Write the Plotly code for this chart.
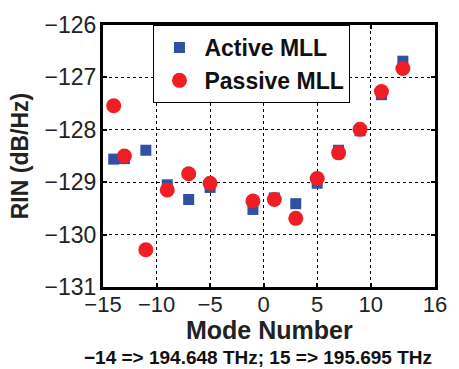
import plotly.graph_objects as go

# Relative intensity noise per longitudinal mode
active_modes = [-14, -13, -11, -9, -7, -5, -1, 1, 3, 5, 7, 9, 11, 13]
active_rin = [-128.56, -128.55, -128.39, -129.05, -129.33, -129.10, -129.52,
              -129.30, -129.41, -129.02, -128.39, -128.02, -127.33, -126.69]

passive_modes = [-14, -13, -11, -9, -7, -5, -1, 1, 3, 5, 7, 9, 11, 13]
passive_rin = [-127.54, -128.50, -130.29, -129.15, -128.84, -129.02, -129.36,
               -129.33, -129.69, -128.93, -128.44, -127.99, -127.27, -126.83]

x_ticks = [-15, -10, -5, 0, 5, 10, 16]
y_ticks = [-126, -127, -128, -129, -130, -131]

FONT = "Liberation Sans, Arial, sans-serif"

fig = go.Figure()
fig.add_trace(go.Scatter(
    x=active_modes, y=active_rin, mode="markers", name="<b>Active MLL</b>",
    marker=dict(symbol="square", size=11, color="#3250A3",
                line=dict(width=0)),
))
fig.add_trace(go.Scatter(
    x=passive_modes, y=passive_rin, mode="markers", name="<b>Passive MLL</b>",
    marker=dict(symbol="circle", size=15, color="#EE1E24",
                line=dict(width=0)),
))

axis_common = dict(
    showline=True, linecolor="black", linewidth=3, mirror="allticks",
    ticks="inside", ticklen=4, tickwidth=2, tickcolor="black",
    showgrid=True, gridcolor="black", gridwidth=1, griddash="dot",
    zeroline=False,
)

fig.update_xaxes(
    range=[-15, 16], tickmode="array", tickvals=x_ticks,
    ticktext=[("\u2212" + str(abs(v))) if v < 0 else str(v) for v in x_ticks],
    ticklabelstandoff=-4,
    tickfont=dict(family=FONT, size=22, color="#222"),
    **axis_common,
)
fig.update_yaxes(
    range=[-131, -126], tickmode="array", tickvals=y_ticks,
    ticktext=["\u2212" + str(abs(v)) for v in y_ticks],
    ticklabelstandoff=-1,
    tickfont=dict(family=FONT, size=23, color="#222"),
    title=dict(text="<b>RIN (dB/Hz)</b>", font=dict(family=FONT, size=23, color="#222"),
               standoff=10),
    **axis_common,
)

# x-axis title and the mode-to-frequency note beneath it
fig.add_annotation(
    text="<b>Mode Number</b>",
    xref="paper", yref="paper", x=0.5, y=-0.165,
    xanchor="center", yanchor="middle", showarrow=False,
    font=dict(family=FONT, size=25, color="#222"),
)
fig.add_annotation(
    text="<b>\u221214 => 194.648 THz; 15 => 195.695 THz</b>",
    xref="paper", yref="paper", x=(262 - 103) / 341, y=-0.27,
    xanchor="center", yanchor="middle", showarrow=False,
    font=dict(family=FONT, size=19, color="#111"),
)

fig.update_layout(
    width=459, height=369,
    margin=dict(l=103, r=15, t=21, b=82),
    paper_bgcolor="white", plot_bgcolor="white",
    showlegend=True,
    legend=dict(
        x=0.152, y=1, xanchor="left", yanchor="top",
        bgcolor="white", bordercolor="black", borderwidth=1,
        font=dict(family=FONT, size=23, color="#111"),
        itemwidth=40, tracegroupgap=0,
    ),
    font=dict(family=FONT),
)

fig.write_html("out.html")
